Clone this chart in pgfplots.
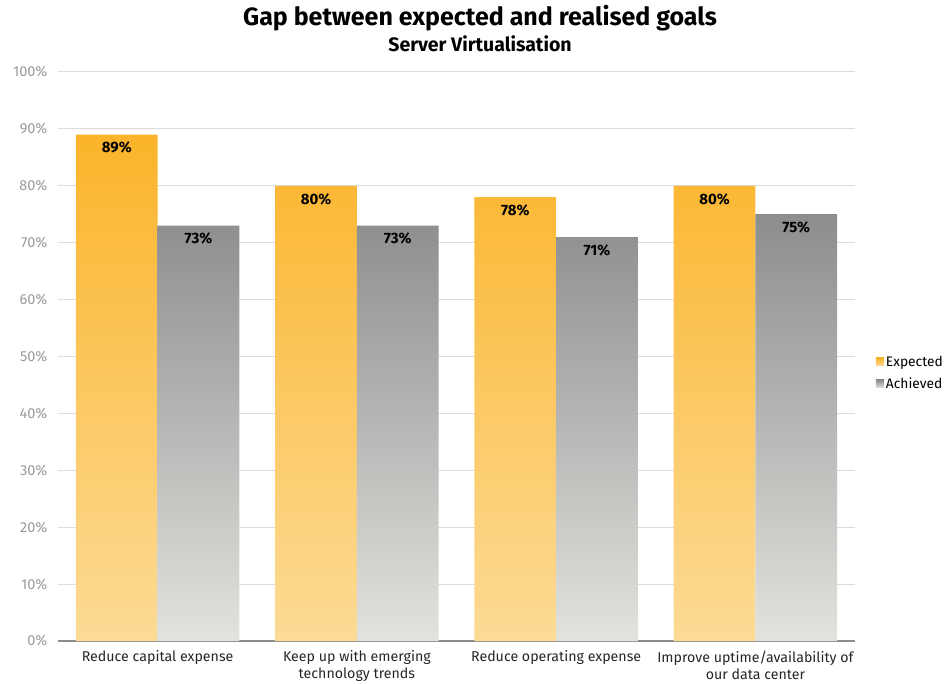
\documentclass[border=0pt]{standalone}
\usepackage{fontspec}
\setmainfont{Fira Sans}
\usepackage{pgfplots}
\pgfplotsset{compat=1.18}
\definecolor{expTop}{HTML}{FBB42A}
\definecolor{expMid}{HTML}{FBB833}
\definecolor{expBot}{HTML}{FCDB96}
\definecolor{achTop}{HTML}{8C8D8D}
\definecolor{achMid}{HTML}{B2B3B2}
\definecolor{achBot}{HTML}{E2E2DE}
\definecolor{gridc}{HTML}{DCDCDC}
\definecolor{axisc}{HTML}{8C8C8C}
\definecolor{ticklab}{HTML}{9A9A9A}
\begin{document}
\begin{tikzpicture}[x=1pt,y=1pt]
\path[use as bounding box] (0,0) rectangle (948,683);
\node[font=\fontsize{25}{28}\selectfont\bfseries] at (480,665) {Gap between expected and realised goals};
\node[font=\fontsize{19.5}{22}\selectfont\bfseries] at (480,639) {Server Virtualisation};
\begin{axis}[
  at={(58pt,42pt)}, anchor=south west,
  scale only axis, width=797pt, height=569pt,
  xmin=-0.5, xmax=3.5, ymin=0, ymax=100,
  enlarge x limits=false,
  axis x line*=bottom, axis y line*=left,
  x axis line style={draw=axisc, line width=1.2pt, -},
  y axis line style={draw=none},
  ybar=0pt, bar width=0.41,
  xtick={0,1,2,3},
  xticklabels={Reduce capital expense, {Keep up with emerging\\technology trends}, Reduce operating expense, {Improve uptime/availability of\\our data center}},
  xticklabel style={align=center, font=\fontsize{14.2}{17}\selectfont, text=black!85, yshift=-2pt},
  x tick style={draw=none},
  extra x ticks={-0.5,0.5,1.5,2.5,3.5},
  extra x tick labels={},
  extra x tick style={tick align=outside, major tick length=6pt, tick style={draw=axisc, line width=1pt}, grid=none},
  ytick={0,10,...,100},
  yticklabel={\pgfmathprintnumber{\tick}\%},
  yticklabel style={font=\fontsize{14.5}{16}\selectfont, text=ticklab, xshift=-7pt},
  y tick style={draw=none},
  /pgf/number format/assume math mode=true,
  ymajorgrids, major grid style={draw=gridc, line width=1pt},
  nodes near coords={\pgfmathprintnumber{\pgfplotspointmeta}\%},
  every node near coord/.append style={anchor=north, yshift=-4pt, font=\fontsize{15}{17}\selectfont\bfseries, text=black},
  legend style={at={(1.026,0.471)}, anchor=west, draw=none, fill=none, font=\fontsize{13.8}{16}\selectfont, row sep=6pt, inner sep=0pt},
  legend cell align=left,
  legend image code/.code={\fill[#1] (0pt,-4pt) rectangle (8pt,4pt);},
]
\addplot[draw=none, top color=expTop, middle color=expMid, bottom color=expBot] coordinates {(0,89) (1,80) (2,78) (3,80)};
\addlegendentry{Expected}
\addplot[draw=none, top color=achTop, middle color=achMid, bottom color=achBot] coordinates {(0,73) (1,73) (2,71) (3,75)};
\addlegendentry{Achieved}
\end{axis}
\end{tikzpicture}
\end{document}
